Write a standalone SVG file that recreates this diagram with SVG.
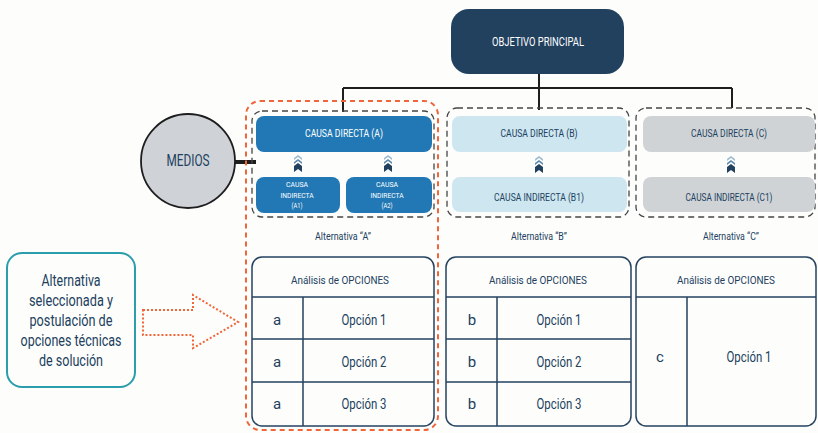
<svg xmlns="http://www.w3.org/2000/svg" xmlns:xlink="http://www.w3.org/1999/xlink" width="818" height="433" viewBox="0 0 818 433">
  <style>
    text { font-family: Roboto, "Liberation Sans", sans-serif; text-anchor: middle; }
    .dark { fill: #213f5e; }
    .white { fill: #ffffff; }
    .group { fill: none; stroke: #454545; stroke-width: 1.3; stroke-dasharray: 6 4; }
    .sel { fill: none; stroke: #f0663a; stroke-width: 2; stroke-dasharray: 5 4; }
    .tbl { fill: none; stroke: #25425f; stroke-width: 1.5; }
    .link { fill: none; stroke: #1e1e1e; stroke-width: 2; }
    .t-cause { font-size: 11px; }
    .t-small { font-size: 8px; }
    .t-alt { font-size: 10.5px; }
    .t-head { font-size: 11px; }
    .t-opt { font-size: 15px; }
  </style>
  <defs>
    <!-- stacked up-chevrons between indirect and direct causes -->
    <g id="chev">
      <polygon points="0,-9 4,-6 4,-4 0,-7 -4,-4 -4,-6" fill="#9dbbd1"/>
      <polygon points="0,-5 4,-2 4,0 0,-3 -4,0 -4,-2" fill="#5f88aa"/>
      <polygon points="0,-1 4,2 4,8 0,5 -4,8 -4,2" fill="#22415f"/>
    </g>
  </defs>

  <rect width="818" height="433" fill="#fdfdfc"/>

  <!-- connectors -->
  <g id="connectors">
    <path class="link" d="M539,74 V110 M343,88 H732 M343,88 V112 M732,88 V108"/>
    <line x1="234" y1="162" x2="256" y2="162" stroke="#1e1e1e" stroke-width="4"/>
    <!-- dotted block arrow toward the selected alternative -->
    <path d="M143,310 H193 V295 L238,322 L193,348 V335 H143 Z" fill="none" stroke="#f0663a" stroke-width="2" stroke-dasharray="2 2"/>
    <use xlink:href="#chev" x="298" y="164"/>
    <use xlink:href="#chev" x="388" y="164"/>
    <use xlink:href="#chev" x="539" y="165"/>
    <use xlink:href="#chev" x="731" y="165"/>
  </g>

  <!-- top objective -->
  <g id="objetivo">
    <rect x="451" y="9" width="173" height="65" rx="18" fill="#22415f"/>
    <text x="538" y="46" font-size="12" class="white" textLength="92" lengthAdjust="spacingAndGlyphs">OBJETIVO PRINCIPAL</text>
  </g>

  <!-- means circle -->
  <g id="medios">
    <circle cx="188" cy="161" r="47" fill="#cfd3d7" stroke="#1e1e1e" stroke-width="1.8"/>
    <text x="188" y="166" font-size="16" class="dark" textLength="43" lengthAdjust="spacingAndGlyphs">MEDIOS</text>
  </g>

  <!-- selected alternative frame -->
  <g id="seleccion">
    <rect class="sel" x="246" y="101" width="192" height="329" rx="14"/>
  </g>

  <!-- alternative A -->
  <g id="alternativa-a">
    <rect class="group" x="252" y="111" width="182" height="106" rx="10"/>
    <g id="causa-directa-a">
      <rect x="256" y="116" width="176" height="36" rx="8" fill="#2178b4"/>
      <text x="344" y="137" class="white t-cause" textLength="78" lengthAdjust="spacingAndGlyphs">CAUSA DIRECTA (A)</text>
    </g>
    <g id="causa-indirecta-a1">
      <rect x="256" y="177" width="84" height="36" rx="8" fill="#2178b4"/>
      <text x="297" y="187" class="white t-small" textLength="22" lengthAdjust="spacingAndGlyphs">CAUSA</text>
      <text x="297" y="197.5" class="white t-small" textLength="33" lengthAdjust="spacingAndGlyphs">INDIRECTA</text>
      <text x="297" y="208" class="white t-small" textLength="11" lengthAdjust="spacingAndGlyphs">(A1)</text>
    </g>
    <g id="causa-indirecta-a2">
      <rect x="346" y="177" width="86" height="36" rx="8" fill="#2178b4"/>
      <text x="387" y="187" class="white t-small" textLength="22" lengthAdjust="spacingAndGlyphs">CAUSA</text>
      <text x="387" y="197.5" class="white t-small" textLength="33" lengthAdjust="spacingAndGlyphs">INDIRECTA</text>
      <text x="387" y="208" class="white t-small" textLength="11" lengthAdjust="spacingAndGlyphs">(A2)</text>
    </g>
    <text x="343" y="240" class="dark t-alt" textLength="56" lengthAdjust="spacingAndGlyphs">Alternativa “A”</text>
  </g>

  <!-- alternative B -->
  <g id="alternativa-b">
    <rect class="group" x="447" y="108" width="182" height="109" rx="10"/>
    <g id="causa-directa-b">
      <rect x="452" y="116" width="175" height="36" rx="8" fill="#cde6f0"/>
      <text x="539" y="137" class="dark t-cause" textLength="77" lengthAdjust="spacingAndGlyphs">CAUSA DIRECTA (B)</text>
    </g>
    <g id="causa-indirecta-b1">
      <rect x="452" y="177" width="175" height="35" rx="8" fill="#cde6f0"/>
      <text x="539" y="201" class="dark t-cause" textLength="90" lengthAdjust="spacingAndGlyphs">CAUSA INDIRECTA (B1)</text>
    </g>
    <text x="539" y="240" class="dark t-alt" textLength="56" lengthAdjust="spacingAndGlyphs">Alternativa “B”</text>
  </g>

  <!-- alternative C -->
  <g id="alternativa-c">
    <rect class="group" x="636" y="108" width="179" height="109" rx="10"/>
    <g id="causa-directa-c">
      <rect x="643" y="116" width="172" height="36" rx="8" fill="#cfd3d6"/>
      <text x="729" y="137" class="dark t-cause" textLength="76" lengthAdjust="spacingAndGlyphs">CAUSA DIRECTA (C)</text>
    </g>
    <g id="causa-indirecta-c1">
      <rect x="643" y="177" width="172" height="35" rx="8" fill="#cfd3d6"/>
      <text x="729" y="201" class="dark t-cause" textLength="87" lengthAdjust="spacingAndGlyphs">CAUSA INDIRECTA (C1)</text>
    </g>
    <text x="731" y="240" class="dark t-alt" textLength="56" lengthAdjust="spacingAndGlyphs">Alternativa “C”</text>
  </g>

  <!-- options table A -->
  <g id="opciones-a">
    <rect class="tbl" x="252" y="257" width="182" height="169" rx="10"/>
    <path class="tbl" d="M252,297 H434 M252,339 H434 M252,382 H434 M303,297 V426"/>
    <text x="340" y="284" class="dark t-head" textLength="98" lengthAdjust="spacingAndGlyphs">Análisis de OPCIONES</text>
    <text x="277" y="325" class="dark t-opt">a</text>
    <text x="277" y="367" class="dark t-opt">a</text>
    <text x="277" y="409" class="dark t-opt">a</text>
    <text x="364" y="325" class="dark t-opt" textLength="45" lengthAdjust="spacingAndGlyphs">Opción 1</text>
    <text x="364" y="367" class="dark t-opt" textLength="45" lengthAdjust="spacingAndGlyphs">Opción 2</text>
    <text x="364" y="409" class="dark t-opt" textLength="45" lengthAdjust="spacingAndGlyphs">Opción 3</text>
  </g>

  <!-- options table B -->
  <g id="opciones-b">
    <rect class="tbl" x="446" y="257" width="185" height="169" rx="10"/>
    <path class="tbl" d="M446,297 H631 M446,339 H631 M446,382 H631 M497,297 V426"/>
    <text x="538" y="284" class="dark t-head" textLength="98" lengthAdjust="spacingAndGlyphs">Análisis de OPCIONES</text>
    <text x="472" y="325" class="dark t-opt">b</text>
    <text x="472" y="367" class="dark t-opt">b</text>
    <text x="472" y="409" class="dark t-opt">b</text>
    <text x="559" y="325" class="dark t-opt" textLength="45" lengthAdjust="spacingAndGlyphs">Opción 1</text>
    <text x="559" y="367" class="dark t-opt" textLength="45" lengthAdjust="spacingAndGlyphs">Opción 2</text>
    <text x="559" y="409" class="dark t-opt" textLength="45" lengthAdjust="spacingAndGlyphs">Opción 3</text>
  </g>

  <!-- options table C -->
  <g id="opciones-c">
    <rect class="tbl" x="636" y="257" width="180" height="169" rx="10"/>
    <path class="tbl" d="M636,297 H816 M687,297 V426"/>
    <text x="726" y="284" class="dark t-head" textLength="98" lengthAdjust="spacingAndGlyphs">Análisis de OPCIONES</text>
    <text x="660" y="362" class="dark t-opt">c</text>
    <text x="749" y="362" class="dark t-opt" textLength="45" lengthAdjust="spacingAndGlyphs">Opción 1</text>
  </g>

  <!-- selected alternative note -->
  <g id="nota">
    <rect x="7" y="253" width="128" height="134" rx="15" fill="#fdfdfc" stroke="#2b9eab" stroke-width="2"/>
    <text x="71" y="285.5" font-size="16" class="dark" textLength="59" lengthAdjust="spacingAndGlyphs">Alternativa</text>
    <text x="71" y="305.5" font-size="16" class="dark" textLength="84" lengthAdjust="spacingAndGlyphs">seleccionada y</text>
    <text x="71" y="325.5" font-size="16" class="dark" textLength="83" lengthAdjust="spacingAndGlyphs">postulación de</text>
    <text x="71" y="345.5" font-size="16" class="dark" textLength="101" lengthAdjust="spacingAndGlyphs">opciones técnicas</text>
    <text x="71" y="365.5" font-size="16" class="dark" textLength="64" lengthAdjust="spacingAndGlyphs">de solución</text>
  </g>
</svg>
